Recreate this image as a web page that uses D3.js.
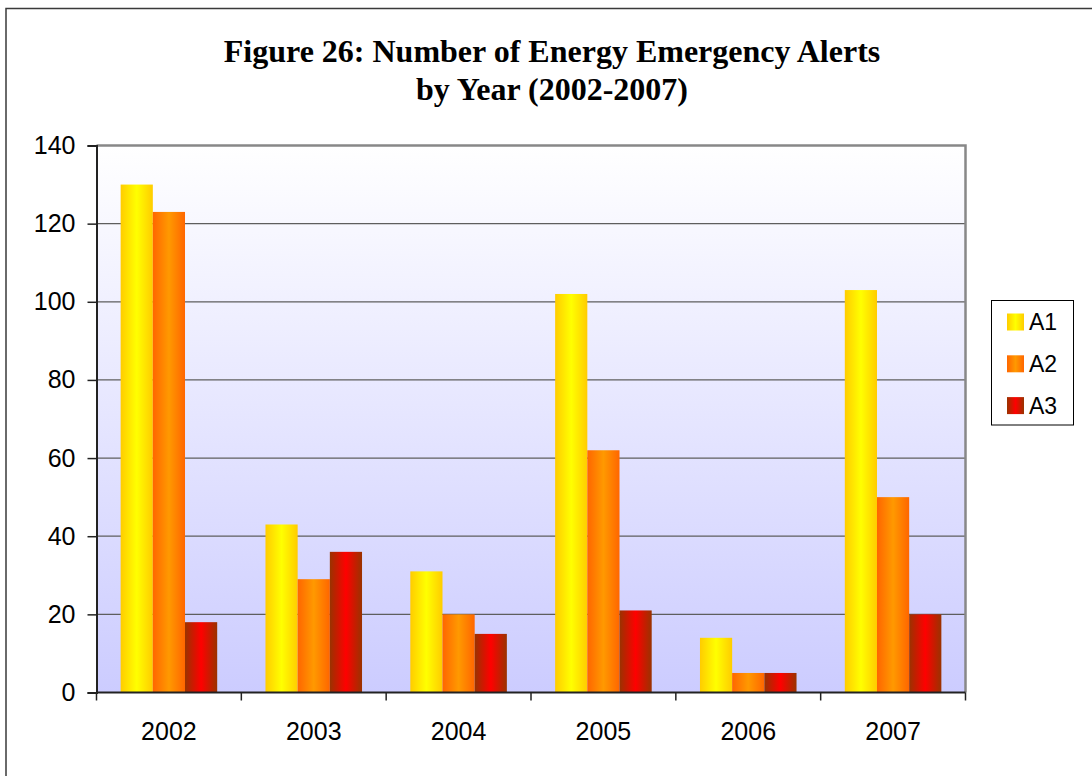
<!DOCTYPE html>
<html>
<head>
<meta charset="utf-8">
<script src="https://cdn.jsdelivr.net/npm/d3@7"></script>
<style>
  html, body { margin: 0; padding: 0; background: #fff; }
  svg { display: block; }
</style>
</head>
<body>
<svg id="chart" width="1092" height="776"></svg>
<script>
// data
var years = ["2002", "2003", "2004", "2005", "2006", "2007"];
var seriesNames = ["A1", "A2", "A3"];
var a1 = [130, 43, 31, 102, 14, 103];
var a2 = [123, 29, 20, 62, 5, 50];
var a3 = [18, 36, 15, 21, 5, 20];
var yTicks = [0, 20, 40, 60, 80, 100, 120, 140];
var titleLines = ["Figure 26: Number of Energy Emergency Alerts", "by Year (2002-2007)"];

var seriesValues = { "A1": a1, "A2": a2, "A3": a3 };

// edge / centre colours for the bar gradients
var barColors = {
  "A1": ["#FFCC00", "#FFFF00"],
  "A2": ["#FF6600", "#FF9900"],
  "A3": ["#993300", "#FF0000"]
};

var svg = d3.select("#chart");

// plot box (window.top is reserved, so no "top" here)
var plotL = 96.5, plotR = 965.5, plotT = 145.5, plotB = 692.5;

// outer frame (runs off the right / bottom of the picture)
svg.append("rect")
  .attr("x", 6).attr("y", 8.5)
  .attr("width", 1200).attr("height", 900)
  .attr("fill", "none")
  .attr("stroke", "#3a3a3a")
  .attr("stroke-width", 1.5);

var defs = svg.append("defs");

var bg = defs.append("linearGradient")
  .attr("id", "plotbg")
  .attr("x1", 0).attr("y1", 0).attr("x2", 0).attr("y2", 1);
bg.append("stop").attr("offset", "0%").attr("stop-color", "#FFFFFF");
bg.append("stop").attr("offset", "100%").attr("stop-color", "#CCCCFF");

seriesNames.forEach(function (s) {
  var g = defs.append("linearGradient")
    .attr("id", "grad" + s)
    .attr("x1", 0).attr("y1", 0).attr("x2", 1).attr("y2", 0);
  g.append("stop").attr("offset", "0%").attr("stop-color", barColors[s][0]);
  g.append("stop").attr("offset", "50%").attr("stop-color", barColors[s][1]);
  g.append("stop").attr("offset", "100%").attr("stop-color", barColors[s][0]);
});

var x0 = d3.scaleBand().domain(years).range([plotL, plotR]).padding(0);
var bw = x0.bandwidth();
var x1 = d3.scaleBand().domain(seriesNames).range([bw / 6, bw * 5 / 6]).padding(0);
var y = d3.scaleLinear().domain([0, 140]).range([plotB, plotT]);

// plot area background
svg.append("rect")
  .attr("x", plotL).attr("y", plotT)
  .attr("width", plotR - plotL).attr("height", plotB - plotT)
  .attr("fill", "url(#plotbg)");

// gridlines
svg.append("g")
  .selectAll("line")
  .data(yTicks.filter(function (d) { return d > 0 && d < 140; }))
  .enter().append("line")
  .attr("x1", plotL).attr("x2", plotR)
  .attr("y1", function (d) { return y(d); })
  .attr("y2", function (d) { return y(d); })
  .attr("stroke", "#5e5e5e")
  .attr("stroke-width", 1.3);

// top and right frame of the plot
svg.append("path")
  .attr("d", "M" + plotL + "," + plotT + "H" + plotR + "V" + plotB)
  .attr("fill", "none")
  .attr("stroke", "#888")
  .attr("stroke-width", 2.5);

// bars
var groups = svg.append("g").selectAll("g")
  .data(years)
  .enter().append("g")
  .attr("transform", function (d) { return "translate(" + x0(d) + ",0)"; });

groups.selectAll("rect")
  .data(function (d, i) {
    return seriesNames.map(function (s) { return { key: s, value: seriesValues[s][i] }; });
  })
  .enter().append("rect")
  .attr("x", function (d) { return x1(d.key); })
  .attr("width", x1.bandwidth())
  .attr("y", function (d) { return y(d.value); })
  .attr("height", function (d) { return plotB - y(d.value); })
  .attr("fill", function (d) { return "url(#grad" + d.key + ")"; });

// y axis
var yAxis = d3.axisLeft(y).tickValues(yTicks).tickSize(9).tickPadding(12);
var yg = svg.append("g")
  .attr("transform", "translate(" + plotL + ",0)")
  .call(yAxis);
yg.select(".domain").attr("stroke", "#222").attr("stroke-width", 2);
yg.selectAll(".tick line").attr("stroke", "#222").attr("stroke-width", 1.5);
yg.selectAll("text")
  .attr("font-family", "'Liberation Sans', Arial, sans-serif")
  .attr("font-size", 25)
  .attr("fill", "#000");

// x axis: ticks at category boundaries
var xg = svg.append("g").attr("transform", "translate(0," + plotB + ")");
xg.append("line")
  .attr("x1", plotL).attr("x2", plotR)
  .attr("stroke", "#222").attr("stroke-width", 2);
xg.selectAll(".xtick")
  .data(years.concat(["end"]))
  .enter().append("line")
  .attr("class", "xtick")
  .attr("x1", function (d) { return d === "end" ? plotR : x0(d); })
  .attr("x2", function (d) { return d === "end" ? plotR : x0(d); })
  .attr("y1", 0).attr("y2", 8)
  .attr("stroke", "#222").attr("stroke-width", 1.5);
xg.selectAll(".xlabel")
  .data(years)
  .enter().append("text")
  .attr("class", "xlabel")
  .attr("x", function (d) { return x0(d) + bw / 2; })
  .attr("y", 47)
  .attr("text-anchor", "middle")
  .attr("font-family", "'Liberation Sans', Arial, sans-serif")
  .attr("font-size", 25)
  .text(function (d) { return d; });

// title
svg.append("g").selectAll("text")
  .data(titleLines)
  .enter().append("text")
  .attr("x", 552)
  .attr("y", function (d, i) { return 62 + i * 38; })
  .attr("text-anchor", "middle")
  .attr("font-family", "'Liberation Serif', 'Times New Roman', serif")
  .attr("font-weight", "bold")
  .attr("font-size", 32)
  .text(function (d) { return d; });

// legend
var legend = svg.append("g");
legend.append("rect")
  .attr("x", 991.5).attr("y", 300.5)
  .attr("width", 82).attr("height", 124.5)
  .attr("fill", "#fff")
  .attr("stroke", "#000").attr("stroke-width", 1);

var items = legend.selectAll(".item")
  .data(seriesNames)
  .enter().append("g")
  .attr("class", "item")
  .attr("transform", function (d, i) { return "translate(1007," + (322 + i * 41.8) + ")"; });
items.append("rect")
  .attr("x", 0).attr("y", -8.5)
  .attr("width", 17).attr("height", 17)
  .attr("fill", function (d) { return "url(#grad" + d + ")"; });
items.append("text")
  .attr("x", 22).attr("y", 8)
  .attr("font-family", "'Liberation Sans', Arial, sans-serif")
  .attr("font-size", 23)
  .text(function (d) { return d; });
</script>
</body>
</html>
